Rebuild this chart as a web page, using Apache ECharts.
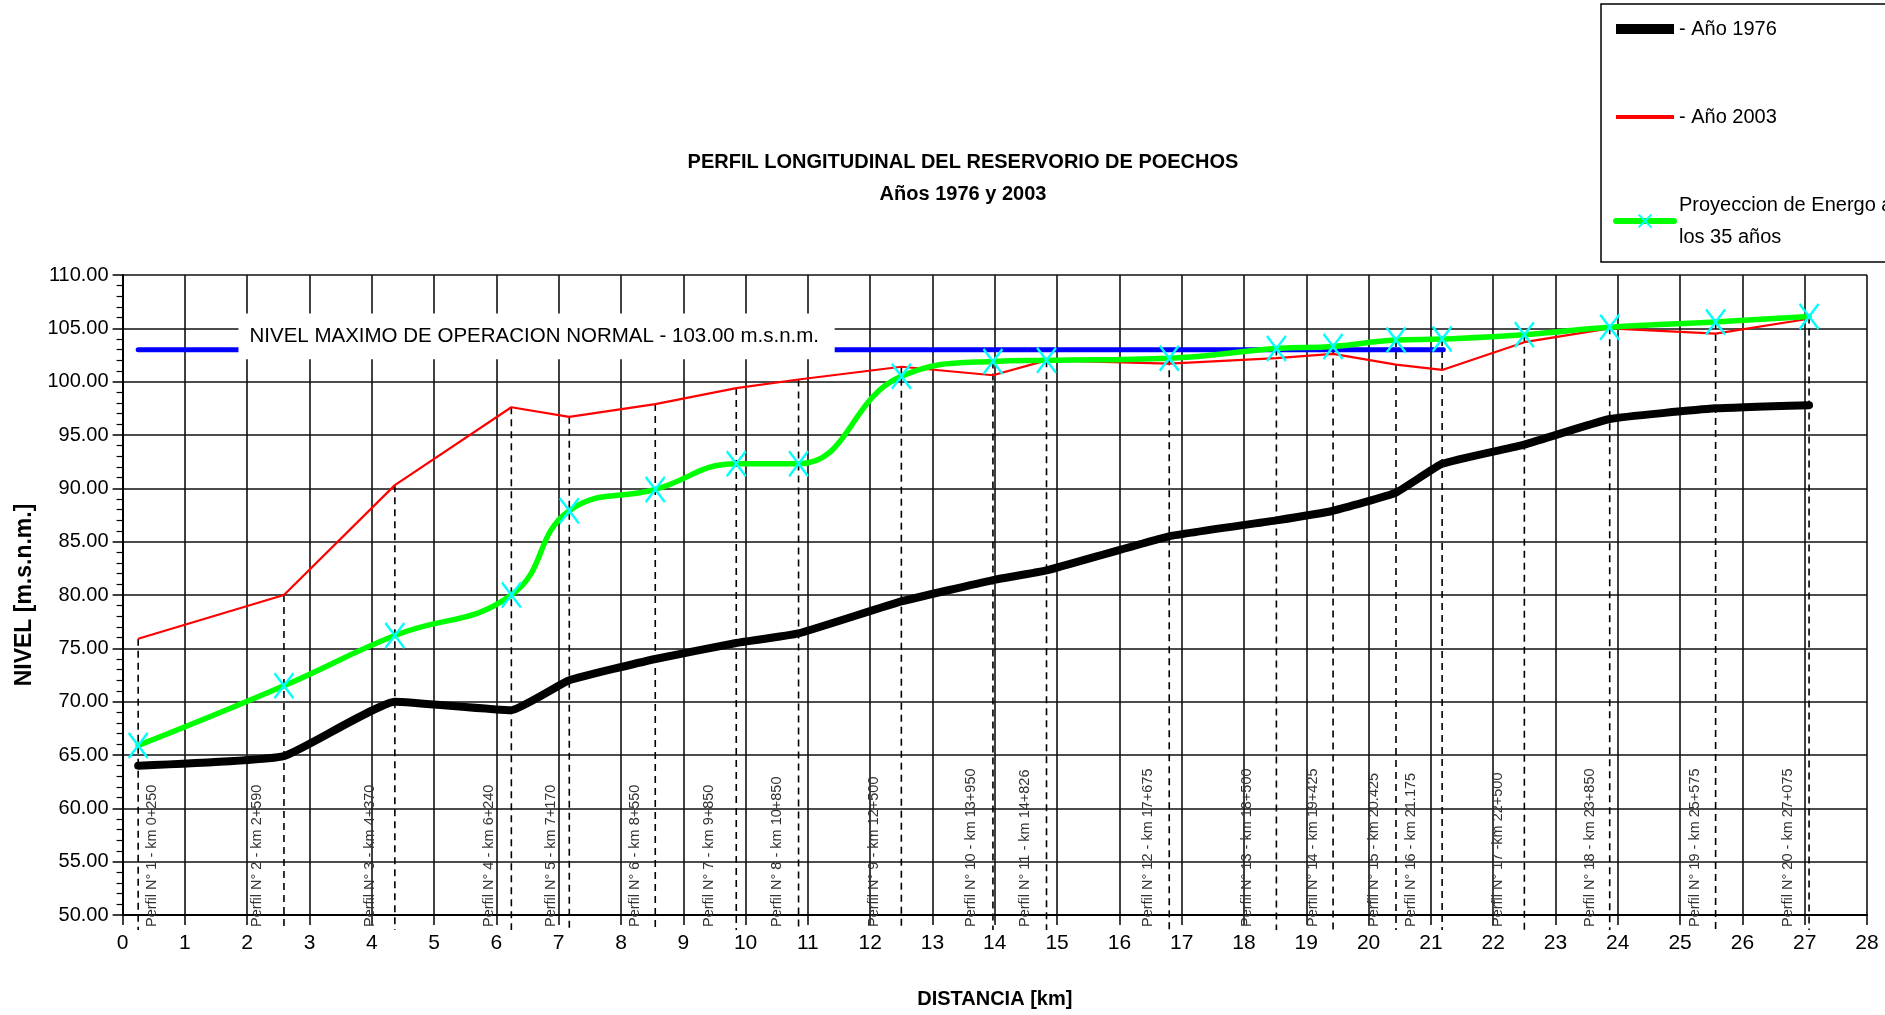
<!DOCTYPE html>
<html>
<head>
<meta charset="utf-8">
<title>Perfil longitudinal del reservorio de Poechos</title>
<script src="https://cdn.jsdelivr.net/npm/echarts@6/dist/echarts.min.js"></script>
<style>
  html, body { margin: 0; padding: 0; background: #fff; }
  #chart { width: 1885px; height: 1015px; }
</style>
</head>
<body>
<div id="chart"></div>
<script>
// distancia de cada perfil [km]
const profileKm = [0.25, 2.59, 4.37, 6.24, 7.17, 8.55, 9.85, 10.85, 12.5, 13.97, 14.83, 16.8, 18.52, 19.43, 20.44, 21.18, 22.5, 23.87, 25.57, 27.07];
// nivel del fondo [m.s.n.m.]
const nivel1976 = [64.0, 64.9, 70.0, 69.2, 72.0, 74.0, 75.5, 76.4, 79.4, 81.4, 82.3, 85.5, 87.0, 87.9, 89.6, 92.3, 94.1, 96.5, 97.5, 97.8];
const nivel2003 = [75.9, 80.0, 90.3, 97.6, 96.7, 97.9, 99.4, 100.2, 101.4, 100.6, 102.0, 101.7, 102.2, 102.6, 101.6, 101.1, 103.7, 105.0, 104.5, 105.9];
const proyeccion35 = [65.9, 71.5, 76.2, 80.0, 87.9, 89.9, 92.3, 92.3, 100.5, 101.9, 102.0, 102.2, 103.1, 103.3, 103.9, 104.0, 104.4, 105.1, 105.6, 106.1];
// rotulos de los perfiles y su ubicacion [km]
const perfilLabels = [
  'Perfil N° 1 - km 0+250', 'Perfil N° 2 - km 2+590', 'Perfil N° 3 - km 4+370', 'Perfil N° 4 - km 6+240',
  'Perfil N° 5 - km 7+170', 'Perfil N° 6 - km 8+550', 'Perfil N° 7 - km 9+850', 'Perfil N° 8 - km 10+850',
  'Perfil N° 9 - km 12+500', 'Perfil N° 10 - km 13+950', 'Perfil N° 11 - km 14+826', 'Perfil N° 12 - km 17+675',
  'Perfil N° 13 - km 18+500', 'Perfil N° 14 - km 19+425', 'Perfil N° 15 - km 20.425', 'Perfil N° 16 - km 21.175',
  'Perfil N° 17 -km 22+500', 'Perfil N° 18 - km 23+850', 'Perfil N° 19 - km 25+575', 'Perfil N° 20 - km 27+075'
];
const labelKm = [0.47, 2.16, 3.97, 5.88, 6.87, 8.22, 9.42, 10.5, 12.06, 13.62, 14.49, 16.46, 18.05, 19.1, 20.09, 20.68, 22.08, 23.56, 25.24, 26.73];
// nivel maximo de operacion normal
const nivelMaximo = 103.0;
const nivelMaximoKm = [0.25, 21.2];
const nivelMaximoTexto = 'NIVEL MAXIMO DE OPERACION NORMAL - 103.00 m.s.n.m.';
const cajaKm = [1.86, 11.43];
const cajaNivel = [102.1, 106.4];
// ejes
const xMin = 0, xMax = 28, xStep = 1;
const yMin = 50, yMax = 110, yStep = 5;

const font = "'Liberation Sans', Arial, sans-serif";

const myChart = echarts.init(document.getElementById('chart'));

const pair = (ys) => profileKm.map((x, i) => [x, ys[i]]);
const noSymbol = { color: 'rgba(0,0,0,0)', borderWidth: 0, opacity: 0 };

const option = {
  animation: false,
  title: {
    text: 'PERFIL LONGITUDINAL DEL RESERVORIO DE POECHOS',
    subtext: 'Años 1976 y 2003',
    left: 958,
    top: 147,
    textAlign: 'center',
    itemGap: 12,
    textStyle: { fontFamily: font, fontSize: 20, fontWeight: 'bold', color: '#000' },
    subtextStyle: { fontFamily: font, fontSize: 20, fontWeight: 'bold', color: '#000' }
  },
  legend: {
    orient: 'vertical',
    left: 1601,
    top: 4,
    padding: [9, 14, 9, 10],
    borderColor: '#000',
    borderWidth: 1.5,
    itemWidth: 58,
    itemHeight: 16,
    itemGap: 56,
    textStyle: { fontFamily: font, fontSize: 20, color: '#000', lineHeight: 32 },
    formatter: (name) => name.replace(' a los', ' a\nlos'),
    data: [
      { name: '- Año 1976', itemStyle: noSymbol, lineStyle: { width: 10, cap: 'butt' } },
      { name: '- Año 2003', itemStyle: noSymbol, lineStyle: { width: 4 } },
      { name: 'Proyeccion de Energo a los 35 años', lineStyle: { width: 6 } }
    ]
  },
  grid: { left: 122.6, right: 18, top: 275, bottom: 100 },
  xAxis: {
    type: 'value',
    min: xMin, max: xMax, interval: xStep,
    name: 'DISTANCIA [km]',
    nameLocation: 'middle',
    nameGap: 74,
    nameTextStyle: { fontFamily: font, fontSize: 20, fontWeight: 'bold', color: '#000' },
    axisLine: { lineStyle: { color: '#000', width: 2 } },
    axisTick: { length: 10, lineStyle: { color: '#000', width: 1.5 } },
    axisLabel: { fontFamily: font, fontSize: 21, color: '#000', margin: 18 },
    splitLine: { show: true, lineStyle: { color: '#111', width: 1.6 } }
  },
  yAxis: {
    type: 'value',
    min: yMin, max: yMax, interval: yStep,
    name: 'NIVEL [m.s.n.m.]',
    nameLocation: 'middle',
    nameGap: 86,
    nameTextStyle: { fontFamily: font, fontSize: 23, fontWeight: 'bold', color: '#000' },
    axisLine: { lineStyle: { color: '#000', width: 2 } },
    axisTick: { length: 10, lineStyle: { color: '#000', width: 1.5 } },
    minorTick: { show: true, splitNumber: 5, length: 6, lineStyle: { color: '#000', width: 1.2 } },
    axisLabel: { fontFamily: font, fontSize: 20, color: '#000', margin: 14, formatter: (v) => v.toFixed(2) },
    splitLine: { show: true, lineStyle: { color: '#111', width: 1.6 } }
  },
  series: [
    {
      // lineas verticales y rotulos de perfiles
      type: 'custom',
      z: 1,
      silent: true,
      clip: false,
      data: profileKm.map((x, i) => [x, Math.max(nivel2003[i], proyeccion35[i]), labelKm[i]]),
      renderItem(params, api) {
        const top = api.coord([api.value(0), api.value(1)]);
        const bottom = api.coord([api.value(0), yMin]);
        const lab = api.coord([api.value(2), yMin]);
        return {
          type: 'group',
          children: [
            {
              type: 'line',
              shape: { x1: top[0], y1: top[1], x2: bottom[0], y2: bottom[1] + 15 },
              style: { stroke: '#000', lineWidth: 1.6, lineDash: [7, 5] }
            },
            {
              type: 'text',
              x: lab[0],
              y: lab[1] + 12,
              rotation: Math.PI / 2,
              style: {
                text: perfilLabels[params.dataIndex],
                font: '14.5px ' + font,
                fill: '#333',
                align: 'left',
                verticalAlign: 'middle'
              }
            }
          ]
        };
      }
    },
    {
      name: 'nivel maximo',
      type: 'line',
      z: 2,
      symbol: 'none',
      silent: true,
      data: nivelMaximoKm.map((x) => [x, nivelMaximo]),
      lineStyle: { color: '#0000ff', width: 5, cap: 'round' }
    },
    {
      // caja blanca con el rotulo del nivel maximo
      type: 'custom',
      z: 3,
      silent: true,
      data: [[cajaKm[0], cajaNivel[1], cajaKm[1], cajaNivel[0]]],
      renderItem(params, api) {
        const p1 = api.coord([api.value(0), api.value(1)]);
        const p2 = api.coord([api.value(2), api.value(3)]);
        return {
          type: 'group',
          children: [
            {
              type: 'rect',
              shape: { x: p1[0], y: p1[1], width: p2[0] - p1[0], height: p2[1] - p1[1] },
              style: { fill: '#fff' }
            },
            {
              type: 'text',
              x: p1[0] + 11,
              y: (p1[1] + p2[1]) / 2,
              style: {
                text: nivelMaximoTexto,
                font: '20.5px ' + font,
                fill: '#000',
                align: 'left',
                verticalAlign: 'middle'
              }
            }
          ]
        };
      }
    },
    {
      name: '- Año 2003',
      type: 'line',
      z: 4,
      symbol: 'none',
      data: pair(nivel2003),
      itemStyle: { color: '#ff0000' },
      lineStyle: { color: '#ff0000', width: 2.2 }
    },
    {
      name: '- Año 1976',
      type: 'line',
      z: 5,
      symbol: 'none',
      smooth: 0.12,
      data: pair(nivel1976),
      itemStyle: { color: '#000' },
      lineStyle: { color: '#000', width: 8, cap: 'round', join: 'round' }
    },
    {
      name: 'Proyeccion de Energo a los 35 años',
      type: 'line',
      z: 6,
      smooth: 0.45,
      symbol: 'path://M0,0L12,16M12,0L0,16',
      symbolSize: [19, 25],
      data: pair(proyeccion35),
      itemStyle: { color: '#00ffff', borderColor: '#00ffff', borderWidth: 2.5 },
      lineStyle: { color: '#00ff00', width: 5.5, cap: 'round' }
    }
  ]
};

myChart.setOption(option);
window.addEventListener('resize', function () {
  myChart.resize();
});
</script>
</body>
</html>
